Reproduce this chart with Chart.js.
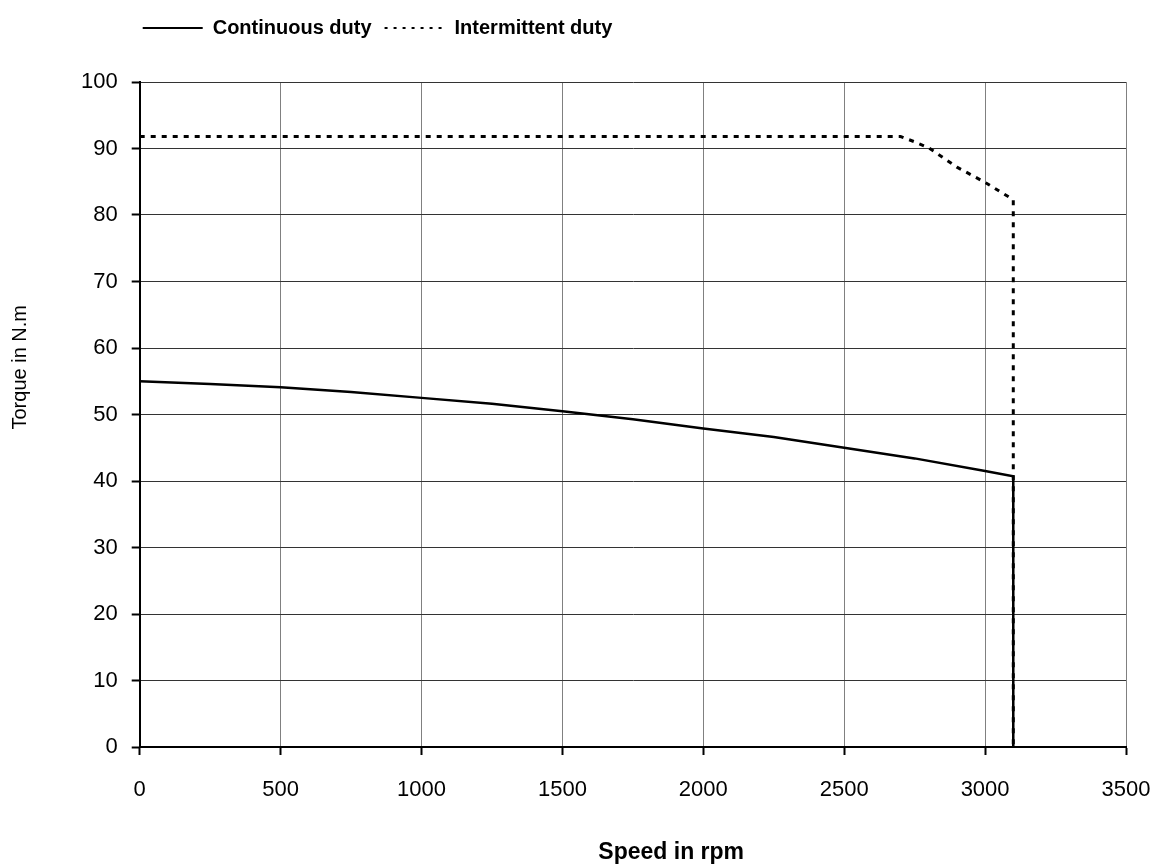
<!DOCTYPE html>
<html>
<head>
<meta charset="utf-8">
<script src="https://cdn.jsdelivr.net/npm/chart.js@4"></script>
<style>
  body { margin: 0; background: #fff; }
  #wrap { width: 1157px; height: 866px; }
</style>
</head>
<body>
<div id="wrap"><canvas id="torque"></canvas></div>
<script>
// speed (rpm) and torque (N.m)
const contSpeed = [0, 250, 500, 750, 1000, 1250, 1500, 1750, 2000, 2250, 2500, 2750, 3000, 3100, 3100]
const contTorque = [55, 54.6, 54.1, 53.4, 52.5, 51.6, 50.5, 49.3, 47.9, 46.6, 45.0, 43.4, 41.5, 40.7, 0]

const intSpeed = [0, 2700, 2750, 2800, 2900, 3000, 3100, 3100]
const intTorque = [91.8, 91.8, 91.0, 90.1, 87.2, 84.9, 82.3, 0]

const xTicks = [0, 500, 1000, 1500, 2000, 2500, 3000, 3500]
const yTicks = [0, 10, 20, 30, 40, 50, 60, 70, 80, 90, 100]

const pts = (xs, ys) => xs.map((x, i) => ({ x: x, y: ys[i] }))

const fam = "'Liberation Sans', Arial, sans-serif"

// push the plot down below the legend, and nudge the legend left
const legendGap = {
  id: 'legendGap',
  beforeInit (chart) {
    const fit = chart.legend.fit
    chart.legend.fit = function () {
      fit.bind(chart.legend)()
      this.height += 34
    }
  },
  afterLayout (chart) {
    chart.legend.left -= 10
  }
}

const chart = new Chart(
  document.getElementById('torque').getContext('2d'),
  {
    type: 'line',
    data: {
      datasets: [
        {
          label: 'Continuous duty',
          data: pts(contSpeed, contTorque),
          borderColor: '#000',
          backgroundColor: '#000',
          borderWidth: 2.5,
          pointRadius: 0,
          tension: 0
        },
        {
          label: 'Intermittent duty',
          data: pts(intSpeed, intTorque),
          borderColor: '#000',
          backgroundColor: '#000',
          borderWidth: 3,
          borderDash: [5, 6],
          pointRadius: 0,
          tension: 0
        }
      ]
    },
    plugins: [legendGap],
    options: {
      responsive: true,
      maintainAspectRatio: false,
      animation: false,
      layout: { padding: { top: 5, right: 31, left: 0, bottom: 0 } },
      scales: {
        x: {
          type: 'linear',
          min: 0,
          max: 3500,
          afterBuildTicks: (axis) => { axis.ticks = xTicks.map(v => ({ value: v })) },
          afterFit: (axis) => { axis.paddingRight = 16 },
          grid: { color: '#808080', lineWidth: 1, tickLength: 8, tickColor: '#000', tickWidth: 2 },
          border: { color: '#000', width: 2 },
          ticks: {
            color: '#000',
            padding: 22,
            maxRotation: 0,
            callback: (v) => String(v),
            font: { family: fam, size: 22 }
          },
          title: {
            display: true,
            text: ' '.repeat(12) + 'Speed in rpm',
            color: '#000',
            padding: { top: 13, bottom: 0 },
            font: { family: fam, size: 23, weight: 'bold' }
          }
        },
        y: {
          min: 0,
          max: 100,
          afterBuildTicks: (axis) => { axis.ticks = yTicks.map(v => ({ value: v })) },
          grid: { color: '#333', lineWidth: 1, tickLength: 8, tickColor: '#000', tickWidth: 2 },
          border: { color: '#000', width: 2 },
          ticks: {
            color: '#000',
            padding: 14,
            callback: (v) => String(v),
            font: { family: fam, size: 22 }
          },
          title: {
            display: true,
            text: ' '.repeat(17) + 'Torque in N.m',
            color: '#000',
            padding: { top: 8, bottom: 35 },
            font: { family: fam, size: 20 }
          }
        }
      },
      plugins: {
        legend: {
          display: true,
          position: 'top',
          align: 'start',
          fullSize: false,
          labels: {
            boxWidth: 60,
            boxHeight: 0,
            padding: 13,
            color: '#000',
            font: { family: fam, size: 20, weight: 'bold' },
            generateLabels: (chart) => {
              const items = Chart.defaults.plugins.legend.labels.generateLabels(chart)
              items.forEach((it, i) => {
                it.lineWidth = 2
                it.lineDash = i === 1 ? [3, 6] : []
              })
              return items
            }
          }
        },
        tooltip: { enabled: false }
      }
    }
  }
)
</script>
</body>
</html>
